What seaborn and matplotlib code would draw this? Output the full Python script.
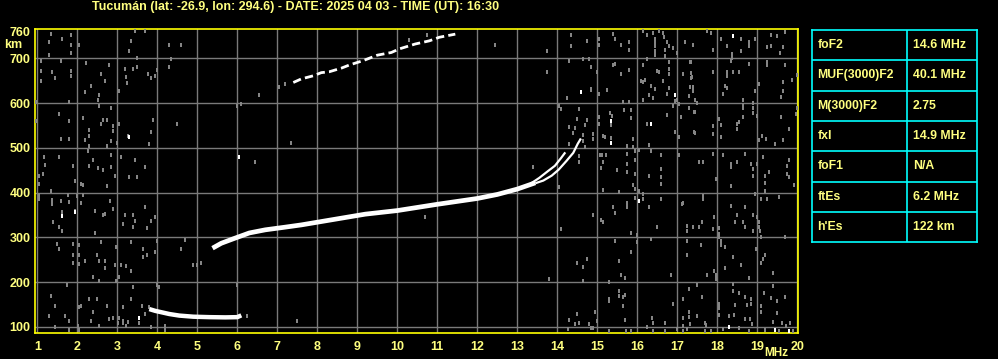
import matplotlib
matplotlib.use("Agg")
import matplotlib.pyplot as plt
import seaborn as sns
import pandas as pd

# ---------------- data ----------------
title = "Tucumán (lat: -26.9, lon: 294.6) - DATE: 2025 04 03 - TIME (UT): 16:30"
x_ticks = list(range(1, 21))
y_ticks = [100, 200, 300, 400, 500, 600, 700, 760]

# sporadic E trace (MHz, km)
es_mhz = [3.8, 3.95, 4.1, 4.3, 4.55, 4.9, 5.3, 5.7, 6.0, 6.1]
es_km = [140, 136, 133, 129, 125.5, 123, 122, 121.5, 122, 126]

# F2 trace, merged part (MHz, km)
f2_mhz = [5.38, 5.6, 5.9, 6.3, 6.7, 7.2, 7.6, 8.4, 9.2, 10.0, 11.0, 12.0, 12.5, 13.0, 13.45]
f2_km = [276, 287, 297, 310, 317, 323, 328, 340, 352, 360, 374, 387, 396, 408, 422]

# F2 ordinary branch
f2o_mhz = [13.3, 13.55, 13.75, 13.94, 14.1, 14.2]
f2o_km = [418, 433, 447, 460, 478, 490]

# F2 extraordinary branch
f2x_mhz = [13.45, 13.65, 13.86, 14.03, 14.23, 14.4, 14.51, 14.59]
f2x_km = [421, 427, 438, 451, 471, 489, 509, 521]

# second hop 2F trace
f2b_mhz = [7.4, 7.6, 7.9, 8.1, 8.3, 8.6, 8.8, 9.15, 9.5, 9.85, 10.05, 10.45, 10.8, 11.05, 11.45]
f2b_km = [646, 654, 661, 668, 670, 678, 685, 695, 707, 713, 721, 732, 739, 747, 754]

# isolated bright echoes
white_dots = [(3.28, 525), (1.63, 347), (1.93, 356), (15.33, 559), (15.33, 511), (16.33, 553),
              (16.94, 617), (16.05, 382), (18.38, 749), (18.30, 101), (19.44, 94), (19.80, 90),
              (6.05, 480), (14.58, 625), (3.55, 121)]

# background noise echoes (MHz, km)
noise_low = [
    (1.34, 754), (1.84, 752), (1.63, 743), (1.28, 737), (1.84, 730), (2.03, 730), (1.84, 712), (1.28, 707),
    (1.09, 695), (1.59, 693), (2.22, 690), (2.78, 684), (1.09, 672), (1.38, 670), (1.84, 672), (2.59, 665),
    (1.44, 656), (1.09, 650), (1.84, 661), (2.70, 650), (2.34, 639), (2.19, 624), (2.55, 618), (2.51, 607),
    (2.55, 593), (1.80, 602), (3.05, 628), (3.18, 676), (3.22, 658), (3.38, 676), (3.23, 645), (3.49, 700),
    (3.49, 680), (3.76, 665), (3.84, 656), (3.95, 661), (3.98, 675), (4.30, 680), (4.34, 698), (4.28, 730),
    (4.59, 730), (3.34, 739), (3.28, 717), (3.45, 761), (3.70, 761), (2.84, 589), (1.53, 576), (1.78, 559),
    (2.13, 566), (2.63, 563), (2.74, 563), (2.59, 553), (2.90, 548), (2.90, 538), (3.03, 553), (2.28, 541),
    (2.30, 527), (2.20, 518), (1.59, 520), (1.78, 520), (2.73, 505), (2.84, 516), (2.98, 512), (3.26, 527),
    (3.88, 563), (3.84, 536), (3.80, 509), (4.48, 553), (2.30, 505), (2.26, 494), (2.38, 474), (2.30, 460),
    (2.51, 454), (2.63, 451), (2.84, 457), (2.93, 438), (3.09, 479), (3.43, 474), (3.28, 434), (3.48, 434),
    (3.68, 457), (2.84, 483), (2.73, 414), (1.88, 459), (1.18, 479), (1.53, 479), (1.20, 462), (1.15, 442),
    (1.03, 438), (1.03, 419), (1.93, 427), (2.09, 419), (2.13, 416), (1.34, 404), (1.76, 395), (1.98, 393),
    (2.13, 395), (1.03, 395), (1.03, 386), (1.38, 384), (1.38, 375), (1.59, 382), (1.80, 380), (2.09, 378),
    (2.82, 382), (2.88, 364), (2.45, 360), (2.63, 349), (2.70, 352), (3.18, 350), (3.38, 350), (3.45, 337),
    (3.38, 323), (3.15, 329), (3.68, 367), (3.84, 337), (3.95, 345), (3.73, 320), (1.63, 356), (1.40, 335),
    (1.55, 323), (1.63, 315), (2.43, 311), (1.95, 358), (1.48, 285), (1.53, 274), (1.90, 285), (1.90, 261),
    (2.03, 283), (2.03, 261), (1.88, 244), (2.03, 241), (2.20, 248), (2.49, 261), (2.58, 289), (2.53, 248),
    (2.68, 248), (2.68, 231), (2.95, 238), (2.97, 278), (3.09, 238), (3.22, 237), (3.34, 224), (3.34, 289),
    (3.63, 274), (3.65, 256), (3.73, 261), (3.95, 267), (3.98, 291), (4.70, 295), (4.59, 274), (4.88, 238),
    (4.98, 238), (5.09, 244), (3.03, 211), (2.97, 203), (2.38, 211), (2.53, 203), (1.74, 194), (3.40, 190),
    (3.98, 194), (4.03, 189), (1.34, 170), (1.44, 146), (1.28, 125), (1.68, 125), (2.03, 144), (2.09, 148),
    (2.28, 163), (2.49, 163), (2.74, 148), (2.38, 133), (3.15, 144), (3.34, 163), (3.62, 148), (3.68, 129),
    (3.80, 144), (2.78, 118), (2.88, 121), (3.05, 119), (3.15, 114), (3.26, 112), (3.01, 109), (3.13, 109),
    (3.22, 103), (3.53, 109), (3.84, 101), (4.18, 103), (4.18, 94), (1.43, 101), (1.78, 94), (2.03, 94),
    (1.78, 113), (2.01, 103), (2.34, 114), (2.55, 103), (0.98, 602), (0.98, 559),
]
noise_mid = [
    (6.55, 618), (5.98, 594), (6.08, 598), (7.33, 512), (6.44, 469), (5.09, 243), (5.98, 194), (7.48, 114),
    (6.23, 125), (7.04, 637), (7.19, 643), (10.73, 752), (10.29, 742), (12.43, 730), (13.73, 717), (14.34, 752),
    (14.34, 727), (14.73, 739), (14.28, 693), (14.63, 698), (14.79, 698), (14.84, 680), (13.73, 670), (14.23, 611),
    (14.84, 630), (14.04, 593), (14.09, 587), (14.54, 587), (14.48, 565), (14.73, 563), (14.29, 546), (14.44, 544),
    (14.68, 550), (14.40, 533), (14.63, 529), (14.65, 516), (14.90, 531), (14.90, 520), (14.28, 509), (14.69, 503),
    (14.54, 481), (14.54, 469), (13.38, 457), (14.03, 413), (10.69, 346), (14.09, 319), (14.90, 349), (14.48, 244),
    (14.73, 252), (14.65, 235), (13.79, 207), (14.65, 203), (14.48, 129), (14.28, 116), (14.44, 107), (14.54, 110),
    (14.79, 107), (14.84, 97), (14.26, 96), (14.93, 134),
]
noise_high = [
    (15.40, 754), (15.44, 743), (15.03, 743), (15.03, 730), (15.80, 737), (15.58, 730), (15.80, 719), (16.13, 760),
    (16.25, 752), (16.40, 757), (16.55, 760), (16.65, 757), (16.67, 747), (16.44, 743), (16.44, 734), (16.44, 727),
    (16.44, 717), (16.44, 707), (16.73, 736), (16.80, 728), (16.69, 719), (16.69, 706), (16.88, 722), (17.0, 712),
    (17.19, 737), (17.38, 730), (15.40, 684), (15.44, 687), (15.58, 665), (15.80, 675), (16.15, 684), (16.23, 698),
    (16.48, 672), (16.55, 670), (16.78, 691), (16.78, 676), (16.80, 665), (17.13, 665), (17.32, 691), (17.36, 658),
    (16.08, 650), (16.13, 648), (16.19, 652), (16.33, 639), (16.44, 631), (16.63, 650), (16.78, 633), (16.30, 617),
    (16.38, 611), (16.13, 608), (16.75, 620), (16.94, 605), (17.0, 608), (16.90, 594), (17.03, 598), (17.28, 615),
    (17.32, 635), (17.38, 628), (15.03, 620), (15.23, 630), (14.83, 631), (14.98, 669), (14.83, 680), (15.32, 579),
    (15.36, 572), (15.33, 551), (15.03, 570), (15.03, 553), (15.67, 585), (15.83, 585), (15.80, 603), (15.65, 603),
    (15.83, 566), (16.25, 553), (16.73, 573), (17.08, 568), (17.30, 588), (17.42, 581), (14.88, 531), (14.88, 520),
    (15.15, 526), (15.19, 524), (15.33, 521), (15.88, 520), (15.73, 505), (15.88, 501), (15.94, 492), (16.05, 496),
    (16.30, 507), (16.33, 492), (16.58, 483), (16.58, 453), (16.58, 434), (16.58, 419), (16.28, 438), (15.94, 474),
    (15.94, 442), (15.73, 486), (15.73, 464), (15.73, 447), (15.50, 451), (15.07, 483), (15.11, 484), (15.15, 469),
    (15.08, 454), (15.22, 483), (16.94, 536), (17.03, 524), (17.03, 483), (17.42, 536), (15.13, 407), (15.55, 402),
    (15.88, 416), (15.94, 408), (15.94, 387), (16.03, 404), (16.13, 397), (16.13, 386), (16.28, 367), (16.58, 386),
    (15.73, 377), (15.73, 367), (15.38, 367), (15.44, 355), (14.88, 349), (15.08, 340), (15.13, 334), (17.11, 375),
    (17.13, 378), (17.23, 326), (17.23, 315), (17.38, 323), (16.48, 323), (15.83, 310), (15.98, 305), (15.98, 289),
    (16.33, 297), (15.44, 293), (17.23, 293), (17.23, 261), (15.83, 267), (15.55, 248), (15.58, 216), (15.69, 209),
    (15.28, 201), (16.83, 216), (17.28, 185), (15.53, 181), (15.55, 170), (15.63, 166), (15.69, 171), (15.28, 163),
    (15.30, 157), (15.63, 148), (14.94, 134), (14.98, 114), (15.69, 116), (16.36, 119), (16.40, 109), (16.69, 110),
    (16.88, 151), (17.13, 163), (17.28, 133), (17.28, 122), (17.13, 119), (17.13, 103), (17.32, 107), (14.88, 97),
    (15.28, 92), (15.72, 92), (15.83, 92), (16.23, 101), (16.40, 92), (16.69, 92), (17.0, 96), (17.15, 92),
    (17.25, 96),
]
noise_top_band = [
    (17.73, 761), (17.83, 757), (17.38, 730), (17.88, 719), (18.08, 743), (18.23, 727), (18.36, 710), (18.58, 743),
    (18.58, 717), (18.80, 737), (18.80, 728), (18.94, 743), (19.25, 725), (19.33, 751), (19.33, 728), (19.48, 749),
    (19.57, 712), (19.63, 725), (19.69, 759), (17.33, 691), (17.33, 667), (17.33, 655), (17.38, 637), (17.90, 670),
    (18.23, 669), (18.23, 660), (18.40, 669), (18.55, 669), (18.36, 700), (18.33, 693), (18.80, 687), (18.19, 639),
    (18.23, 633), (18.15, 620), (18.63, 608), (18.88, 600), (19.25, 691), (19.25, 684), (19.69, 684), (19.63, 648),
    (19.86, 652), (19.65, 626), (19.58, 613), (19.03, 643), (18.94, 626), (19.98, 663), (17.44, 608), (17.48, 600),
    (17.44, 581), (17.90, 548), (17.90, 531), (18.08, 550), (18.05, 564), (18.08, 524), (18.48, 553), (18.55, 557),
    (18.65, 568), (18.48, 542), (18.63, 588), (18.63, 596), (18.88, 588), (18.88, 578), (18.98, 572), (19.11, 527),
    (19.03, 518), (19.22, 520), (19.44, 509), (19.58, 568), (19.80, 542), (19.63, 518), (17.44, 533), (19.98, 588),
    (19.97, 576),
]
noise_bottom_band = [
    (17.55, 469), (17.63, 469), (17.88, 486), (18.13, 483), (18.33, 464), (18.33, 457), (18.50, 469), (18.69, 486),
    (18.83, 464), (18.88, 453), (18.88, 438), (18.98, 464), (19.13, 479), (19.19, 438), (19.19, 422), (19.30, 447),
    (19.73, 460), (19.73, 442), (19.78, 474), (19.78, 434), (19.92, 417), (18.33, 414), (17.97, 430), (19.19, 404),
    (17.63, 393), (17.63, 386), (18.94, 397), (19.08, 386), (19.25, 386), (19.55, 390), (17.92, 345), (18.05, 320),
    (17.90, 319), (18.03, 308), (18.03, 300), (18.33, 371), (18.48, 350), (18.44, 334), (18.63, 335), (18.69, 323),
    (18.69, 367), (18.88, 350), (18.88, 315), (18.98, 345), (19.03, 334), (19.03, 323), (19.07, 315), (19.08, 302),
    (19.69, 302), (17.40, 323), (17.55, 323), (17.61, 334), (17.58, 283), (18.08, 293), (18.08, 283), (18.19, 278),
    (18.38, 256), (18.58, 238), (18.97, 274), (19.08, 243), (19.13, 252), (19.19, 261), (19.38, 221), (18.80, 209),
    (18.19, 231), (17.92, 224), (17.97, 216), (17.97, 207), (17.75, 216), (17.50, 194), (17.61, 166), (18.38, 196),
    (18.38, 181), (18.55, 177), (18.69, 166), (18.83, 163), (18.83, 151), (18.73, 149), (18.44, 149), (18.05, 151),
    (18.05, 142), (17.50, 124), (17.69, 110), (17.72, 104), (17.69, 92), (17.83, 92), (18.05, 127), (18.15, 96),
    (18.30, 124), (18.42, 127), (18.55, 97), (18.69, 118), (18.82, 118), (18.86, 107), (18.78, 92), (19.08, 148),
    (19.08, 134), (19.17, 177), (19.38, 192), (19.33, 164), (19.50, 157), (19.50, 131), (19.69, 168), (19.38, 112),
    (19.61, 110), (19.72, 103), (19.82, 110), (19.90, 92), (19.19, 94), (19.55, 92),
]

param_names = ["foF2", "MUF(3000)F2", "M(3000)F2", "fxI", "foF1", "ftEs", "h'Es"]
param_values = ["14.6 MHz", "40.1 MHz", "2.75", "14.9 MHz", "N/A", "6.2 MHz", "122 km"]

# ---------------- styling ----------------
sns.set_style("dark")
plt.rcParams["font.family"] = ["Liberation Sans", "DejaVu Sans"]
plt.rcParams["font.weight"] = "bold"

TXT = "#ffff80"
FRAME = "#ffff00"
GRIDC = "#7a7a7a"
NOISEC = "#858585"

W, H = 998, 359
fig = plt.figure(figsize=(W / 100, H / 100), dpi=100, facecolor="black")
ax = fig.add_axes([35.3 / W, (H - 333) / H, 763 / W, 303.7 / H])
ax.set_facecolor("black")

noise = pd.DataFrame(noise_low + noise_mid + noise_high + noise_top_band + noise_bottom_band,
                     columns=["mhz", "km"])
rect = [(-0.5, -0.7), (0.5, -0.7), (0.5, 0.7), (-0.5, 0.7)]
sns.scatterplot(data=noise, x="mhz", y="km", ax=ax, color=NOISEC, marker=rect, s=8,
                linewidth=0, zorder=3, legend=False)

wd = pd.DataFrame(white_dots, columns=["mhz", "km"])
sns.scatterplot(data=wd, x="mhz", y="km", ax=ax, color="white", marker=rect, s=8,
                linewidth=0, zorder=4, legend=False)

sns.lineplot(x=es_mhz, y=es_km, ax=ax, color="white", lw=3.2, sort=False, estimator=None,
             zorder=5, solid_capstyle="butt")
sns.lineplot(x=f2_mhz, y=f2_km, ax=ax, color="white", lw=3.4, sort=False, estimator=None,
             zorder=5, solid_capstyle="butt")
sns.lineplot(x=f2o_mhz, y=f2o_km, ax=ax, color="white", lw=1.6, sort=False, estimator=None,
             zorder=5, solid_capstyle="butt")
sns.lineplot(x=f2x_mhz, y=f2x_km, ax=ax, color="white", lw=1.6, sort=False, estimator=None,
             zorder=5, solid_capstyle="butt")
l2 = sns.lineplot(x=f2b_mhz, y=f2b_km, ax=ax, color="white", lw=2.0, sort=False, estimator=None,
                  zorder=5)
l2.lines[-1].set_dashes([3, 1.5])

ax.set_xlim(0.95, 20.025)
ax.set_ylim(86.6, 764.8)
ax.set_xticks(x_ticks)
ax.set_yticks(y_ticks)
ax.set_xticklabels([str(v) for v in x_ticks])
ax.set_yticklabels([str(v) for v in y_ticks])
ax.set_xlabel("")
ax.set_ylabel("")
ax.grid(True, color=GRIDC, lw=1.0, zorder=1)
ax.set_axisbelow(True)
ax.get_ygridlines()[-1].set_visible(False)
ax.tick_params(axis="both", length=0, colors=TXT, labelsize=9)
ax.tick_params(axis="x", pad=6)
ax.tick_params(axis="y", pad=3.5)
for lab in ax.get_xticklabels() + ax.get_yticklabels():
    lab.set_fontweight("bold")
for sp in ax.spines.values():
    sp.set_visible(True)
    sp.set_color(FRAME)
    sp.set_linewidth(1.2)

fig.text(295.5 / W, 1 - 7 / H, title, ha="center", va="center", color=TXT,
         fontsize=9, fontweight="bold")
fig.text(13.5 / W, 1 - 44.5 / H, "km", ha="center", va="center", color=TXT,
         fontsize=9, fontweight="bold")
fig.text(776 / W, 1 - 353 / H, "MHz", ha="center", va="center", color=TXT,
         fontsize=8.5, fontweight="bold")

# parameter table
tab = fig.add_axes([812.3 / W, (H - 242.3) / H, 165 / W, 212.3 / H])
tab.set_facecolor("black")
tab.set_xlim(0, 165)
tab.set_ylim(len(param_names), 0)
tab.set_xticks([])
tab.set_yticks([])
for sp in tab.spines.values():
    sp.set_visible(True)
    sp.set_color("#00ffff")
    sp.set_linewidth(1.2)
for i in range(1, len(param_names)):
    tab.axhline(i, color="#00ffff", lw=1.2)
tab.axvline(95, color="#00ffff", lw=1.2)
for i, (n, v) in enumerate(zip(param_names, param_values)):
    tab.text(5, i + 0.5, n, color=TXT, fontsize=8.8, fontweight="bold", va="center", ha="left")
    tab.text(100.5, i + 0.5, v, color=TXT, fontsize=8.8, fontweight="bold", va="center", ha="left")

fig.savefig("out.png", dpi=100, facecolor="black")
